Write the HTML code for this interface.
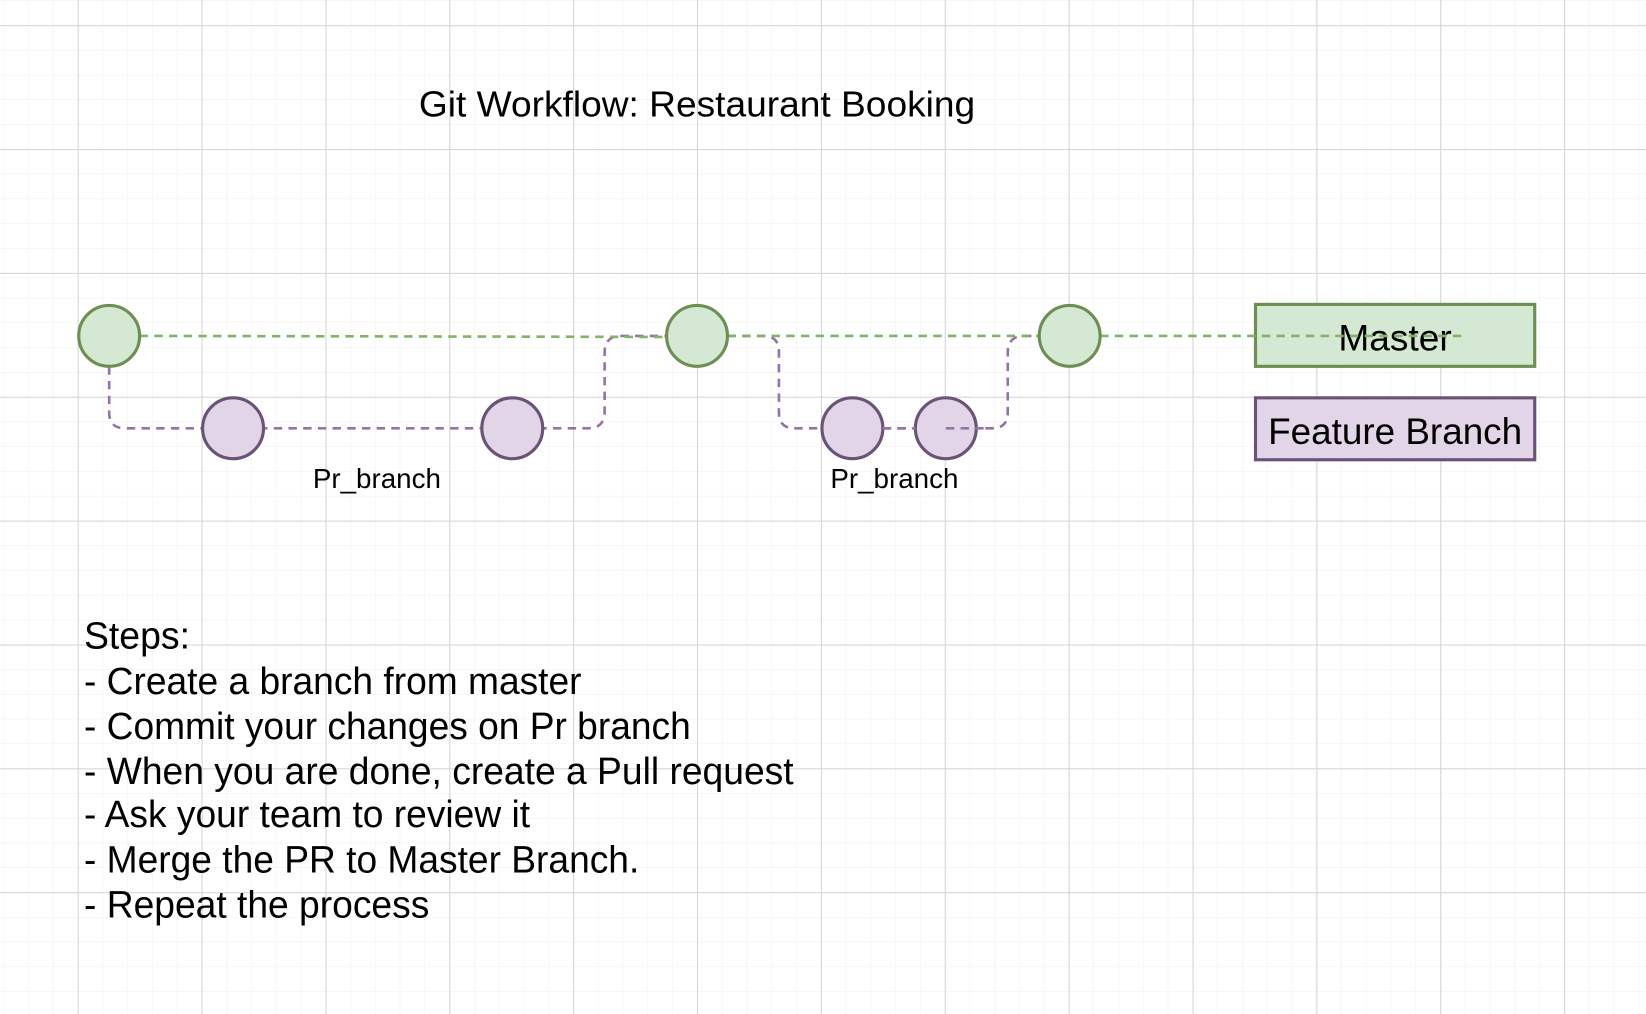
<!DOCTYPE html>
<html><head><meta charset="utf-8"><style>
html,body{margin:0;padding:0;background:#fff;}
svg{display:block;}
text{font-family:"Liberation Sans",Arial,sans-serif;fill:#000;}
</style></head><body>
<svg width="1646" height="1014" viewBox="0 0 1568 966" preserveAspectRatio="none" xmlns="http://www.w3.org/2000/svg">
<defs>
<pattern id="minor" x="3.2" y="0.4" width="23.6" height="23.6" patternUnits="userSpaceOnUse">
<path d="M0 0H23.6M0 0V23.6" stroke="#efefef" stroke-width="1" fill="none"/>
</pattern>
<pattern id="major" x="74" y="24" width="118" height="118" patternUnits="userSpaceOnUse">
<path d="M0 0.5H118M0.5 0V118" stroke="#d4d4d4" stroke-width="1" fill="none"/>
</pattern>
</defs>
<rect width="1568" height="966" fill="#fff"/>
<rect width="1568" height="966" fill="url(#minor)"/>
<rect width="1568" height="966" fill="url(#major)"/>

<text x="664" y="111" font-size="34" text-anchor="middle" textLength="530" lengthAdjust="spacingAndGlyphs">Git Workflow: Restaurant Booking</text>

<g fill="none" stroke="#9673a6" stroke-width="2.5" stroke-dasharray="8,6">
<path d="M104 349 V393 Q104 408 119 408 H560 Q576 408 576 392 V336 Q576 320 592 320 H635"/>
<path d="M693 320 H727 Q742 320 742 335 V393 Q742 408 757 408 H945 Q960 408 960 393 V336 Q960 320 976 320 H990"/>
</g>
<g fill="none" stroke="#82b366" stroke-width="2.5" stroke-dasharray="8,6">
<path d="M133 320 L635 321"/>
<path d="M693 320 H990"/>
</g>

<rect x="1196" y="290" width="266" height="59" fill="#d5e8d4" stroke="#6d8f52" stroke-width="3"/>
<rect x="1196" y="379" width="266" height="59" fill="#e1d5e7" stroke="#6b5378" stroke-width="3"/>
<text x="1329" y="334" font-size="35" text-anchor="middle" textLength="108" lengthAdjust="spacingAndGlyphs">Master</text>
<text x="1329" y="423" font-size="35" text-anchor="middle" textLength="242" lengthAdjust="spacingAndGlyphs">Feature Branch</text>
<path d="M1048 320 H1395" fill="none" stroke="#82b366" stroke-width="2.5" stroke-dasharray="8,6"/>

<g fill="#d5e8d4" stroke="#6d8f52" stroke-width="3">
<circle cx="104" cy="320" r="29"/>
<circle cx="664" cy="320" r="29"/>
<circle cx="1019" cy="320" r="29"/>
</g>
<g fill="#e1d5e7" stroke="#6b5378" stroke-width="3">
<circle cx="222" cy="408" r="29"/>
<circle cx="488" cy="408" r="29"/>
<circle cx="812" cy="408" r="29"/>
<circle cx="901" cy="408" r="29"/>
</g>
<path d="M841 408 H872 M901 408 H945" fill="none" stroke="#9673a6" stroke-width="2.5" stroke-dasharray="8,6"/>

<text x="359" y="465" font-size="26" text-anchor="middle" textLength="122" lengthAdjust="spacingAndGlyphs">Pr_branch</text>
<text x="852" y="465" font-size="26" text-anchor="middle" textLength="122" lengthAdjust="spacingAndGlyphs">Pr_branch</text>

<g font-size="36">
<text x="80" y="618" textLength="101" lengthAdjust="spacingAndGlyphs">Steps:</text>
<text x="80" y="661" textLength="474" lengthAdjust="spacingAndGlyphs">- Create a branch from master</text>
<text x="80" y="704" textLength="578" lengthAdjust="spacingAndGlyphs">- Commit your changes on Pr branch</text>
<text x="80" y="747" textLength="676" lengthAdjust="spacingAndGlyphs">- When you are done, create a Pull request</text>
<text x="80" y="788" textLength="425" lengthAdjust="spacingAndGlyphs">- Ask your team to review it</text>
<text x="80" y="831" textLength="529" lengthAdjust="spacingAndGlyphs">- Merge the PR to Master Branch.</text>
<text x="80" y="874" textLength="329" lengthAdjust="spacingAndGlyphs">- Repeat the process</text>
</g>
</svg>
</body></html>
